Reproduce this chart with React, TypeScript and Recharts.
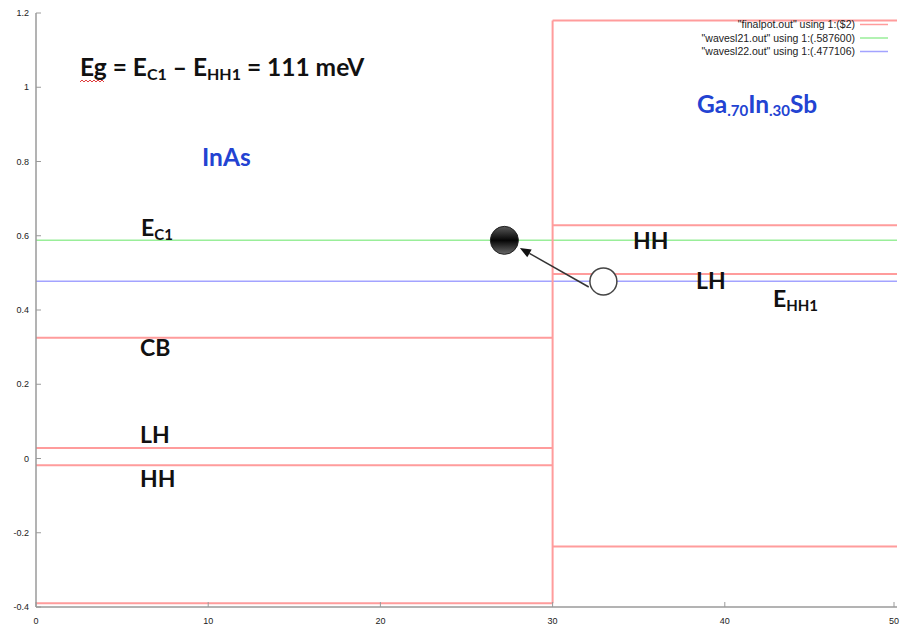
import React from 'react';
import {
  LineChart,
  Line,
  XAxis,
  YAxis,
  ReferenceDot,
  ReferenceLine,
} from 'recharts';

// axis ticks
const xTicks = [0, 10, 20, 30, 40, 50];
const yTicks = [-0.4, -0.2, 0, 0.2, 0.4, 0.6, 0.8, 1, 1.2];

// band edges (eV)
const inAsLevels = [0.325, 0.028, -0.018, -0.39];
const gaInSbLevels = [1.18, 0.628, 0.497, -0.237];
const interfaceX = 30;
const xEnd = 50;

// eigen-energies of the two wavefunctions
const ec1 = 0.5876;
const ehh1 = 0.477106;

// electron / hole markers and the arrow between them
const electronDot = { x: 27.2, y: 0.5876 };
const holeDot = { x: 32.95, y: 0.477 };
const arrowPath = [
  { x: 32.1, y: 0.462 },
  { x: 28.1, y: 0.567 },
];

const legendItems = [
  { name: '"finalpot.out" using 1:($2)', color: '#ff9c9c' },
  { name: '"wavesl21.out" using 1:(.587600)', color: '#99ee99' },
  { name: '"wavesl22.out" using 1:(.477106)', color: '#a3a3ff' },
];

// finalpot as one series, broken into segments with nulls
const potData: { x: number; v: number | null }[] = [];
inAsLevels.forEach((l) => {
  potData.push({ x: 0, v: l }, { x: interfaceX, v: l }, { x: interfaceX, v: null });
});
gaInSbLevels.forEach((l) => {
  potData.push({ x: interfaceX, v: l }, { x: xEnd, v: l }, { x: xEnd, v: null });
});
potData.push(
  { x: interfaceX, v: inAsLevels[inAsLevels.length - 1] },
  { x: interfaceX, v: gaInSbLevels[0] }
);

const ec1Data = [{ x: 0, v: ec1 }, { x: xEnd, v: ec1 }];
const ehh1Data = [{ x: 0, v: ehh1 }, { x: xEnd, v: ehh1 }];

const AXIS = '#9a9a9a';
const TICK_FONT = '"Liberation Sans", Arial, sans-serif';

const LeftTick = (props: any) => {
  const { x, y, payload } = props;
  return (
    <g>
      <line x1={x} x2={x + 5} y1={y} y2={y} stroke={AXIS} />
      <text x={x - 7} y={y} dy={3} textAnchor="end" fontSize={9} fontFamily={TICK_FONT} fill="#222">
        {String(payload.value)}
      </text>
    </g>
  );
};

const BottomTick = (props: any) => {
  const { x, y, payload } = props;
  return (
    <g>
      <line x1={x} x2={x} y1={y} y2={y - 5} stroke={AXIS} />
      <text x={x} y={y + 17} textAnchor="middle" fontSize={9} fontFamily={TICK_FONT} fill="#222">
        {String(payload.value)}
      </text>
    </g>
  );
};

const TopTick = (props: any) => {
  const { x, y } = props;
  return <line x1={x} x2={x} y1={y} y2={y + 5} stroke={AXIS} />;
};

const RightTick = (props: any) => {
  const { x, y } = props;
  return <line x1={x} x2={x - 5} y1={y} y2={y} stroke={AXIS} />;
};

const ElectronShape = (props: any) => {
  const { cx, cy, r } = props;
  return (
    <g>
      <defs>
        <linearGradient id="eGrad" x1="0" y1="0" x2="0" y2="1">
          <stop offset="0%" stopColor="#5a5a5a" />
          <stop offset="50%" stopColor="#050505" />
          <stop offset="100%" stopColor="#6a6a6a" />
        </linearGradient>
      </defs>
      <circle cx={cx} cy={cy} r={r} fill="url(#eGrad)" stroke="#222" strokeWidth={1} />
    </g>
  );
};

const HoleShape = (props: any) => {
  const { cx, cy, r } = props;
  return <circle cx={cx} cy={cy} r={r} fill="#fff" stroke="#444" strokeWidth={1.5} />;
};

const ArrowShape = (props: any) => {
  const { x1, y1, x2, y2 } = props;
  const ang = Math.atan2(y2 - y1, x2 - x1);
  const len = 11;
  const half = 4.5;
  const bx = x2 - len * Math.cos(ang);
  const by = y2 - len * Math.sin(ang);
  const px = -Math.sin(ang) * half;
  const py = Math.cos(ang) * half;
  return (
    <g>
      <line x1={x1} y1={y1} x2={bx} y2={by} stroke="#333" strokeWidth={1.5} />
      <polygon points={`${x2},${y2} ${bx + px},${by + py} ${bx - px},${by - py}`} fill="#111" />
    </g>
  );
};

const LBL = { fontFamily: 'Lato, "Open Sans", sans-serif', fontWeight: 700, fontSize: 23, fill: '#111' };
const BIG = { ...LBL, fontSize: 24.5 };
const BLUE = '#2343d2';

const Sub = ({ children, size = 15, drop = 4 }: any) => (
  <tspan fontSize={size} dy={drop}>
    {children}
  </tspan>
);

const Annotations = () => (
  <svg
    width={902}
    height={629}
    style={{ position: 'absolute', left: 0, top: 0, pointerEvents: 'none' }}
  >
    {/* legend */}
    {legendItems.map((it, i) => (
      <g key={it.name}>
        <text
          x={855}
          y={24.5 + i * 13.5}
          dy={3.5}
          textAnchor="end"
          fontSize={10.5}
          fontFamily={TICK_FONT}
          fill="#222"
        >
          {it.name}
        </text>
        <line x1={860} x2={888} y1={24.5 + i * 13.5} y2={24.5 + i * 13.5} stroke={it.color} strokeWidth={1.5} />
      </g>
    ))}

    <text x={80} y={76} {...BIG}>
      Eg = E<Sub size={16}>C1</Sub>
      <tspan dy={-4}> – E</tspan>
      <Sub size={16}>HH1</Sub>
      <tspan dy={-4}> = 111 meV</tspan>
    </text>
    <path d="M80 82 l2 -2 l2 2 l2 -2 l2 2 l2 -2 l2 2 l2 -2 l2 2 l2 -2 l2 2 l2 -2 l2 2" stroke="#e04040" fill="none" strokeWidth={1} />

    <text x={202} y={166} {...BIG} fill={BLUE}>InAs</text>
    <text x={697} y={113} {...BIG} fill={BLUE}>
      Ga<Sub size={15} drop={3}>.70</Sub>
      <tspan dy={-3}>In</tspan>
      <Sub size={15} drop={3}>.30</Sub>
      <tspan dy={-3}>Sb</tspan>
    </text>

    <text x={141} y={236} {...LBL}>
      E<Sub>C1</Sub>
    </text>
    <text x={140} y={356} {...LBL}>CB</text>
    <text x={140} y={443} {...LBL}>LH</text>
    <text x={140} y={487} {...LBL}>HH</text>

    <text x={633} y={249} {...LBL}>HH</text>
    <text x={696} y={289} {...LBL}>LH</text>
    <text x={773} y={307} {...LBL}>
      E<Sub>HH1</Sub>
    </text>
  </svg>
);

export default function App() {
  return (
    <div style={{ position: 'absolute', left: 0, top: 0, width: 902, height: 629, background: '#fff' }}>
      <LineChart width={902} height={629} margin={{ top: 13, right: 5, bottom: 0, left: 0 }}>
        <XAxis
          xAxisId={0}
          dataKey="x"
          type="number"
          domain={[0, xEnd]}
          ticks={xTicks}
          height={22}
          tickSize={0}
          tickMargin={0}
          tickLine={false}
          axisLine={{ stroke: AXIS, strokeWidth: 1.5 }}
          tick={<BottomTick />}
          allowDuplicatedCategory
        />
        <XAxis
          xAxisId="top"
          orientation="top"
          dataKey="x"
          type="number"
          domain={[0, xEnd]}
          ticks={xTicks}
          height={0}
          tickSize={0}
          tickMargin={0}
          tickLine={false}
          axisLine={{ stroke: AXIS, strokeWidth: 1.5 }}
          tick={<TopTick />}
        />
        <YAxis
          yAxisId={0}
          type="number"
          domain={[-0.4, 1.2]}
          ticks={yTicks}
          width={36}
          tickSize={0}
          tickMargin={0}
          tickLine={false}
          axisLine={{ stroke: AXIS, strokeWidth: 1.5 }}
          tick={<LeftTick />}
          allowDataOverflow
        />
        <YAxis
          yAxisId="right"
          orientation="right"
          type="number"
          domain={[-0.4, 1.2]}
          ticks={yTicks}
          width={0}
          tickSize={0}
          tickMargin={0}
          tickLine={false}
          axisLine={{ stroke: AXIS, strokeWidth: 1.5 }}
          tick={<RightTick />}
        />
        <Line
          data={ec1Data}
          dataKey="v"
          stroke="#99ee99"
          strokeWidth={1.5}
          dot={false}
          activeDot={false}
          isAnimationActive={false}
        />
        <Line
          data={ehh1Data}
          dataKey="v"
          stroke="#a3a3ff"
          strokeWidth={1.5}
          dot={false}
          activeDot={false}
          isAnimationActive={false}
        />
        <Line
          data={potData}
          dataKey="v"
          stroke="#ff9c9c"
          strokeWidth={2}
          dot={false}
          activeDot={false}
          connectNulls={false}
          isAnimationActive={false}
        />
        <ReferenceLine segment={arrowPath} shape={<ArrowShape />} />
        <ReferenceDot x={electronDot.x} y={electronDot.y} r={14} shape={<ElectronShape />} />
        <ReferenceDot x={holeDot.x} y={holeDot.y} r={13.5} shape={<HoleShape />} />
      </LineChart>
      <Annotations />
    </div>
  );
}
